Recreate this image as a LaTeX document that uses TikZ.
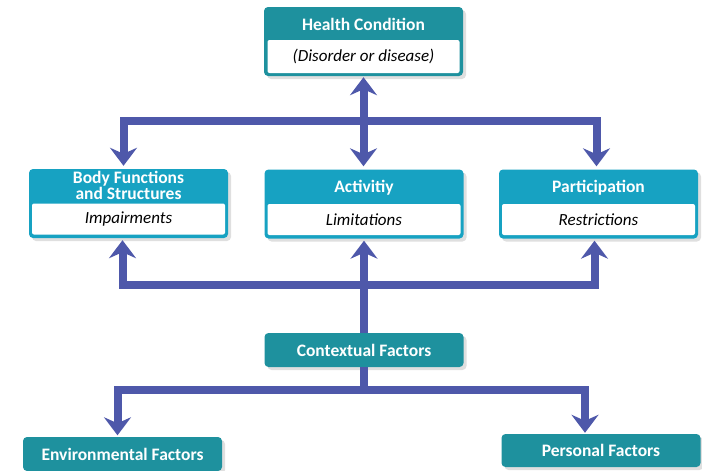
\documentclass[tikz,border=0pt]{standalone}
\usepackage{fontspec}
\setmainfont{Carlito}
\usetikzlibrary{arrows.meta,shadows}
\definecolor{hcteal}{HTML}{1E919E}
\definecolor{rowblue}{HTML}{17A2C2}
\definecolor{linkblue}{HTML}{4E58AA}
\begin{document}
\begin{tikzpicture}[x=1pt,y=-1pt,
head box/.style={rounded corners=4pt,fill=hcteal,minimum width=199pt,inner sep=0pt,drop shadow={shadow xshift=3pt,shadow yshift=-3pt,opacity=.25}},
row box/.style={head box,fill=rowblue,minimum height=69pt},
inner box/.style={rounded corners=2pt,fill=white,minimum width=193pt,minimum height=31pt,inner sep=0pt,font=\fontsize{17}{19}\selectfont\itshape},
title/.style={text=white,font=\fontsize{17.5}{14}\selectfont\bfseries,align=center,inner sep=0pt},
link/.style={draw=linkblue,line width=8pt,-{Stealth[length=18pt,width=27pt,inset=6pt]},shorten >=2pt}]
\useasboundingbox (0,0) rectangle (702,471);
\begin{scope}
\node[head box,minimum height=69pt] (hc) at (363.5,41.5) {};%health
\node[title] (hct) at (363.5,24) {Health Condition};
\node[inner box,minimum width=192pt,minimum height=33pt] (hci) at (363.5,56.5) {(Disorder or disease)};
\node[row box] (bfs) at (128.5,203.5) {};%body
\node[title] (bfst) at (128.5,185) {Body Functions\\and Structures};
\node[inner box] (bfsi) at (128.5,219) {Impairments};
\node[row box] (act) at (364,204) {};%activity
\node[title] (actt) at (364,188) {Activitiy};
\node[inner box] (acti) at (364,219.5) {Limitations};
\node[row box] (par) at (598.5,204) {};%participation
\node[title] (part) at (598.5,188) {Participation};
\node[inner box] (pari) at (598.5,219.5) {Restrictions};
\node[head box,minimum height=34pt,title] (ctx) at (364,350) {Contextual Factors};
\node[head box,minimum height=34pt,title] (env) at (122.5,454) {Environmental Factors};
\node[head box,minimum height=33pt,title] (per) at (601,450.5) {Personal Factors};
\end{scope}
\coordinate (top) at (363.5,121);
\coordinate (mid) at (364,285);
\coordinate (low) at (364,390);
\begin{scope}
\draw[link,{Stealth[length=18pt,width=27pt,inset=6pt]}-{Stealth[length=18pt,width=27pt,inset=6pt]},shorten <=1pt,shorten >=3pt] (hc.south) -- (hc.south |- act.north);
\draw[link,shorten >=3pt] (top) -| ([xshift=-5pt]bfs.north);
\draw[link,shorten >=3pt] (top) -| ([xshift=-2pt]par.north);
\draw[link] (mid) -| ([xshift=-6pt]bfs.south);
\draw[link] (mid) -| ([xshift=-4pt]par.south);
\draw[link] (ctx.north) -- (act.south);
\draw[link,-,shorten >=0pt] (ctx.south) -- (low);
\draw[link,shorten >=1.5pt] (low) -| ([xshift=-5pt]env.north);
\draw[link,shorten >=1pt] (low) -| ([xshift=-16pt]per.north);
\end{scope}
\end{tikzpicture}
\end{document}
